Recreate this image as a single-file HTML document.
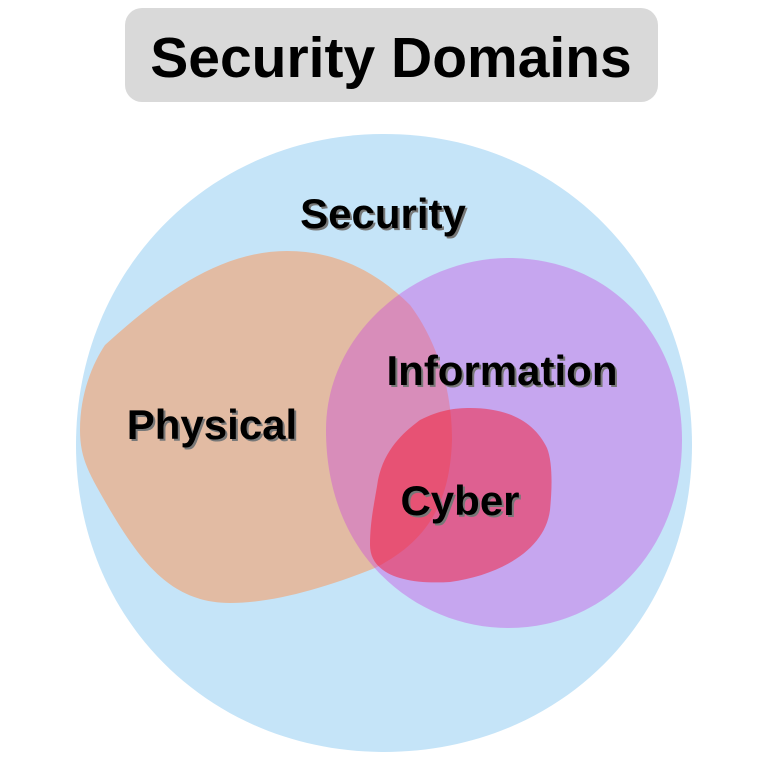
<!DOCTYPE html>
<html><head><meta charset="utf-8"><style>
html,body{margin:0;padding:0;background:#fff;}
svg{display:block}
text{font-family:"Liberation Sans",sans-serif;font-weight:bold;}
</style></head><body>
<svg width="768" height="768" viewBox="0 0 768 768">
<rect x="125" y="8" width="533" height="94" rx="17" fill="#d9d9d9"/>
<text x="391" y="77" font-size="57" text-anchor="middle" fill="#000">Security Domains</text>
<path d="M384,134 C560,134 692,270 692,445 C692,620 560,752 384,752 C210,752 76,620 76,445 C76,270 210,134 384,134 Z" fill="#c5e4f8"/>
<path d="M287,251 C340,251 380,275 410,305 C440,345 452,395 452,440 C450,500 430,540 375,568 C320,590 270,603 230,603 C170,603 140,560 110,510 C90,475 80,460 80,430 C80,390 95,360 105,345 C160,295 220,251 287,251 Z" fill="#e2bba3"/>
<path d="M508,258 C610,258 682,335 682,440 C682,545 610,628 508,628 C420,628 326,560 326,430 C326,330 420,258 508,258 Z" fill="rgba(200,66,224,0.38)"/>
<path d="M470,408 C510,408 535,423 547,448 C553,463 552,490 550,510 C545,550 500,575 450,582 C400,585 370,572 370,545 C370,520 375,500 378,480 C385,445 410,428 420,420 C440,410 455,408 470,408 Z" fill="rgba(250,10,30,0.45)"/>
<g font-size="42">
<text x="385" y="230" text-anchor="middle" fill="#777">Security</text>
<text x="383" y="228" text-anchor="middle" fill="#000">Security</text>
<text x="504" y="387" text-anchor="middle" fill="#777">Information</text>
<text x="502" y="385" text-anchor="middle" fill="#000">Information</text>
<text x="214" y="441" text-anchor="middle" fill="#777">Physical</text>
<text x="212" y="439" text-anchor="middle" fill="#000">Physical</text>
<text x="462" y="517" text-anchor="middle" fill="#777">Cyber</text>
<text x="460" y="515" text-anchor="middle" fill="#000">Cyber</text>
</g>
</svg>
</body></html>
